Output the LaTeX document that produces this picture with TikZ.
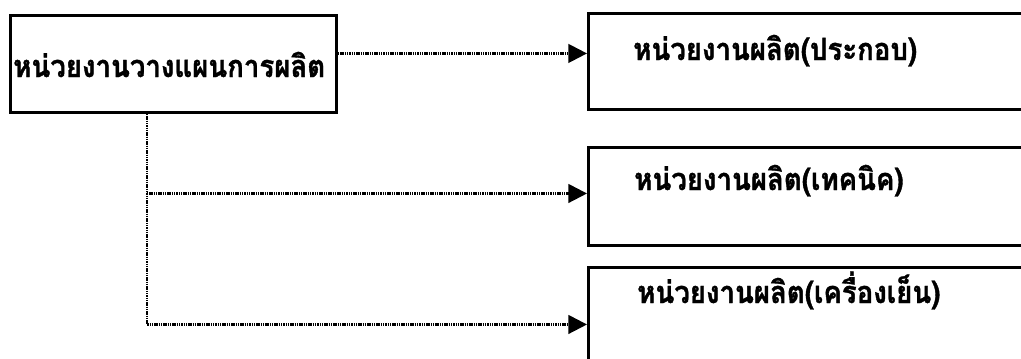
\documentclass[tikz,border=0pt]{standalone}
\usepackage{fontspec}
\newfontfamily\thaifont[Script=Thai, FakeStretch=0.9, BoldFeatures={FakeBold=1.2}]{Loma}
\usetikzlibrary{arrows.meta}

\tikzset{
  unitbox/.style={draw=black, line width=2.2pt, rectangle, inner sep=0pt, anchor=north west},
  unitname/.style={font=\thaifont\bfseries\fontsize{23}{26}\selectfont, inner sep=0pt, anchor=base west},
  orderline/.style={draw=black, line width=1.8pt, dash pattern=on 1.1pt off 0.6pt,
    -{Triangle[length=14pt,width=14pt]}}
}

\begin{document}
\begin{tikzpicture}[x=0.75pt,y=-0.75pt]
\useasboundingbox (0,0) rectangle (1021,358);
\clip (0,0) rectangle (1021,358);
\fill[white] (0,0) rectangle (1021,358);
% planning unit on the left
\node[unitbox, minimum width=244.5pt, minimum height=72.75pt] (plan) at (9,14) {};
\node[unitname] (plantext) at (13,77) {หน่วยงานวางแผนการผลิต};
% production units, running off to the right
\node[unitbox, minimum width=375pt, minimum height=72pt] (assembly) at (587,12) {};
\node[unitbox, minimum width=375pt, minimum height=73.5pt] (technic) at (587,146) {};
\node[unitbox, minimum width=375pt, minimum height=72pt] (cooling) at (587,266) {};
\node[unitname] (assemblytext) at (633,60) {หน่วยงานผลิต(ประกอบ)};
\node[unitname] (technictext) at (634,190) {หน่วยงานผลิต(เทคนิค)};
\node[unitname] (coolingtext) at (637,303) {หน่วยงานผลิต(เครื่องเย็น)};
% dotted order lines
\coordinate (out) at ([yshift=7.9pt]plan.east);
\coordinate (trunk) at ([xshift=103.5pt]plan.south west);
\draw[orderline] (out) -- (out -| assembly.west);
\draw[orderline] (trunk) |- ([yshift=2.25pt]technic.west);
\draw[orderline] (trunk) |- ([yshift=-6.75pt]cooling.west);
\end{tikzpicture}
\end{document}
